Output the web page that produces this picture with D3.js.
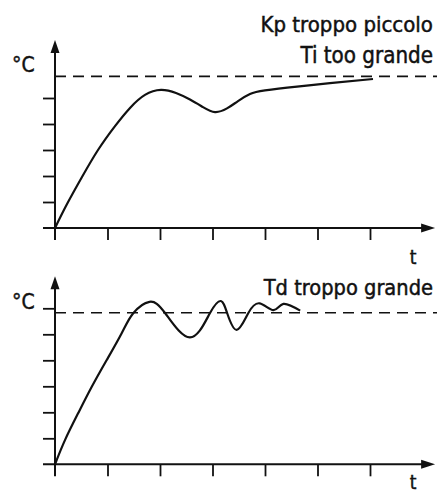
<!DOCTYPE html>
<html>
<head>
<meta charset="utf-8">
<script src="https://cdn.jsdelivr.net/npm/d3@7"></script>
<style>
  body { margin: 0; background: #fff; }
  svg { display: block; }
  text { font-family: 'DejaVu Sans Condensed', 'Liberation Sans Narrow', sans-serif; fill: #111; stroke: #111; stroke-width: 0.45; }
</style>
</head>
<body>
<svg width="437" height="493"></svg>
<script>
// data (t in tick units, temperature in tick units)
var xTicks = [1, 2, 3, 4, 5, 6];
var yTicksTop = [1, 2, 3, 4, 5];
var yTicksBottom = [1, 2, 3, 4, 5, 6];
var setpoint = 5.83;
var titlesTop = ['Kp troppo piccolo', 'Ti too grande'];
var titlesBottom = ['Td troppo grande'];
var yLabel = '°C';
var xLabel = 't';

var curveTop = [
  [0, 0], [0.229, 0.92], [0.514, 1.96], [0.819, 3.0], [1.143, 3.92], [1.429, 4.62],
  [1.714, 5.12], [2.019, 5.31], [2.305, 5.19], [2.571, 4.94], [2.819, 4.65], [3.048, 4.46],
  [3.276, 4.60], [3.486, 4.88], [3.714, 5.15], [4.0, 5.29], [4.61, 5.44], [5.238, 5.57],
  [6.057, 5.73]
];
var curveBottom = [
  [0, 0], [0.19, 0.93], [0.44, 1.96], [0.70, 2.98], [0.985, 4.01], [1.27, 5.04],
  [1.49, 5.81], [1.80, 6.25], [2.10, 5.81], [2.57, 4.88], [2.95, 5.81], [3.16, 6.28],
  [3.28, 5.81], [3.46, 5.17], [3.68, 5.81], [3.90, 6.19], [4.16, 5.93], [4.35, 6.17],
  [4.67, 5.91]
];

var svg = d3.select('svg');
var tickLen = 12;

// shared x scale
var xScale = d3.scaleLinear().domain([0, 6]).range([55, 370]);

var panels = [
  {axisY: 228, yTicks: yTicksTop, curve: curveTop, titles: titlesTop,
   titleBase: [31.5, 63.3], titleLen: [172.7, 132.7], cBase: 72, tBase: 264},
  {axisY: 464.3, yTicks: yTicksBottom, curve: curveBottom, titles: titlesBottom,
   titleBase: [295], titleLen: [169.4], cBase: 308.5, tBase: 489}
];

panels.forEach(function(p) {
  var yScale = d3.scaleLinear().domain([0, 6]).range([p.axisY, p.axisY - 156]);
  var g = svg.append('g');

  // setpoint dashed line
  g.append('line')
    .attr('x1', xScale(0)).attr('x2', 437)
    .attr('y1', yScale(setpoint)).attr('y2', yScale(setpoint))
    .attr('stroke', '#111').attr('stroke-width', 1.6)
    .attr('stroke-dasharray', '11,7');

  // y ticks
  g.append('g')
    .attr('transform', 'translate(' + xScale(0) + ',0)')
    .call(d3.axisLeft(yScale).tickValues(p.yTicks).tickSize(tickLen).tickFormat(''))
    .call(function(a) { a.select('.domain').remove(); })
    .selectAll('line').attr('stroke', '#111').attr('stroke-width', 1.8);

  // x ticks
  g.append('g')
    .attr('transform', 'translate(0,' + p.axisY + ')')
    .call(d3.axisBottom(xScale).tickValues(xTicks).tickSize(tickLen).tickFormat(''))
    .call(function(a) { a.select('.domain').remove(); })
    .selectAll('line').attr('stroke', '#111').attr('stroke-width', 1.8);

  // axes lines
  var x0 = xScale(0), y0 = yScale(0);
  var yTop = yScale(7.23), xRight = xScale(7.24);
  g.append('line')
    .attr('x1', x0).attr('x2', x0).attr('y1', y0 + tickLen).attr('y2', yTop + 10)
    .attr('stroke', '#111').attr('stroke-width', 2);
  g.append('line')
    .attr('x1', x0 - tickLen).attr('x2', xRight - 10).attr('y1', y0).attr('y2', y0)
    .attr('stroke', '#111').attr('stroke-width', 2);

  // arrow heads
  g.append('path')
    .attr('d', 'M' + x0 + ',' + yTop + 'L' + (x0 - 4.5) + ',' + (yTop + 13) + 'L' + (x0 + 4.5) + ',' + (yTop + 13) + 'Z')
    .attr('fill', '#111');
  g.append('path')
    .attr('d', 'M' + xRight + ',' + y0 + 'L' + (xRight - 14) + ',' + (y0 - 4.5) + 'L' + (xRight - 14) + ',' + (y0 + 4.5) + 'Z')
    .attr('fill', '#111');

  // response curve
  var line = d3.line()
    .x(function(d) { return xScale(d[0]); })
    .y(function(d) { return yScale(d[1]); })
    .curve(d3.curveNatural);
  g.append('path')
    .datum(p.curve)
    .attr('d', line)
    .attr('fill', 'none')
    .attr('stroke', '#111')
    .attr('stroke-width', 2.2);

  // labels
  g.append('text')
    .attr('x', 12).attr('y', p.cBase)
    .attr('font-size', 21)
    .text(yLabel);
  g.append('text')
    .attr('x', 413).attr('y', p.tBase)
    .attr('font-size', 19)
    .attr('text-anchor', 'middle')
    .text(xLabel);

  p.titles.forEach(function(t, i) {
    var txt = g.append('text')
      .attr('x', 433).attr('y', p.titleBase[i])
      .attr('text-anchor', 'end')
      .attr('font-size', 23)
      .text(t);
    // fit font size to the width
    var w = txt.node().getComputedTextLength();
    txt.attr('font-size', 23 * p.titleLen[i] / w);
  });
});
</script>
</body>
</html>
